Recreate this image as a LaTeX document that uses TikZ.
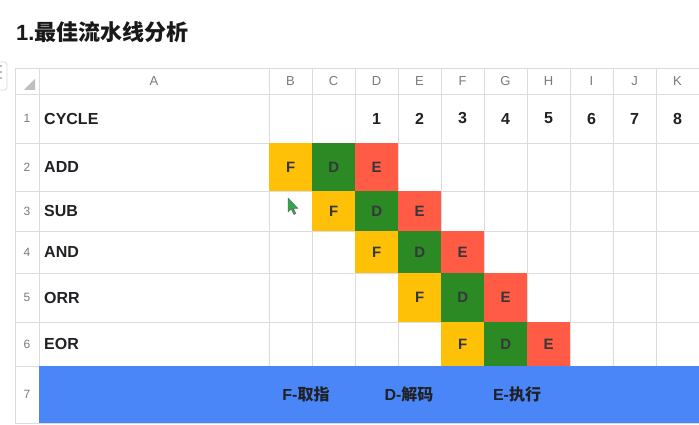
\documentclass[tikz,border=0pt]{standalone}
\usepackage{fontspec}
\setmainfont{Liberation Sans}
\newfontfamily\cjk{Noto Sans CJK SC}
\definecolor{gridc}{HTML}{DADCE0}
\definecolor{fy}{HTML}{FFC107}
\definecolor{fg}{HTML}{2B8A24}
\definecolor{fr}{HTML}{FF5B45}
\definecolor{barblue}{HTML}{4A86F8}
\definecolor{hdr}{HTML}{7A7A7A}
\definecolor{txt}{HTML}{202124}
\definecolor{curg}{HTML}{2FA84A}
\begin{document}
\begin{tikzpicture}[x=1pt,y=-1pt,
  gridline/.style={draw=gridc, line width=0.8pt},
  collab/.style={font=\fontsize{13}{15}\selectfont, text=hdr, inner sep=0},
  rowlab/.style={font=\fontsize{12}{14}\selectfont, text=hdr, inner sep=0},
  lab/.style={font=\fontsize{16}{18}\selectfont\bfseries, text=txt, anchor=west, inner sep=0},
  num/.style={font=\fontsize{16}{18}\selectfont\bfseries, text=txt, inner sep=0},
  stage/.style={font=\fontsize{15}{17}\selectfont\bfseries, text=txt!90, inner sep=0,
     minimum width=43pt, anchor=north west},
  legend/.style={font=\fontsize{16}{18}\selectfont\bfseries, text=txt, inner sep=0},
]
\useasboundingbox (0,0) rectangle (699,425);
\fill[white] (0,0) rectangle (699,425);

% title
\node[anchor=west, inner sep=0, font=\fontsize{22}{26}\selectfont\bfseries, text=black!90] (title) at (16,32) {1.{\cjk 最佳流水线分析}};

% side tab
\draw[gridc, fill=white, rounded corners=3pt, line width=0.8pt] (-6,62) rectangle (7,90);
\foreach \yy in {66,72,78}{\fill[hdr] (1,\yy) circle (0.9);}

% grid
\foreach \yy in {68,94,143,191,231,273,322,366,423}{
  \draw[gridline] (15,\yy) -- (699,\yy);
}
\foreach \xx in {15,39,269,312,355,398,441,484,527,570,613,656}{
  \draw[gridline] (\xx,68) -- (\xx,423);
}
% corner triangle
\fill[black!25] (35,79) -- (35,90) -- (24,90) -- cycle;

% column letters
\node[collab] (hA) at (154,81) {A};
\foreach \c [count=\i from 0] in {B,C,D,E,F,G,H,I,J,K}{
  \node[collab] (h\c) at (290.5+43*\i,81) {\c};
}
% row numbers
\foreach \r/\yc in {1/118.5,2/167,3/211,4/252,5/297.5,6/344,7/394.5}{
  \node[rowlab] (n\r) at (27,\yc) {\r};
}
% row labels
\foreach \r/\t/\yc in {1/CYCLE/118.5,2/ADD/167,3/SUB/211,4/AND/252,5/ORR/297.5,6/EOR/344}{
  \node[lab] (l\r) at (44,\yc) {\t};
}
% cycle numbers
\foreach \k [count=\i from 0] in {1,...,8}{
  \node[num] (c\k) at (376.5+43*\i,118.5) {\k};
}

% pipeline stages: row / first column index / top / height
\foreach \r/\s/\top/\h in {2/0/143/48,3/1/191/40,4/2/231/42,5/3/273/49,6/4/322/44}{
  \node[stage, fill=fy, minimum height=\h pt] (f\r) at (269+43*\s,\top) {F};
  \node[stage, fill=fg, minimum height=\h pt] (d\r) at (312+43*\s,\top) {D};
  \node[stage, fill=fr, minimum height=\h pt] (e\r) at (355+43*\s,\top) {E};
}

% legend bar
\node[fill=barblue, minimum width=660pt, minimum height=57pt, inner sep=0, anchor=north west] (bar) at (39,366) {};
\node[legend] (lf) at (306,394.5) {F-{\cjk 取指}};
\node[legend] (ld) at (409,394.5) {D-{\cjk 解码}};
\node[legend] (le) at (517,394.5) {E-{\cjk 执行}};

% mouse cursor
\draw[fill=curg, draw=black!60, line width=0.5pt, line join=round]
  (288,198) -- (288,212) -- (291.3,209) -- (293.8,214.5) -- (295.8,213.6) -- (293.4,208.3) -- (297.8,208.3) -- cycle;
\end{tikzpicture}
\end{document}
